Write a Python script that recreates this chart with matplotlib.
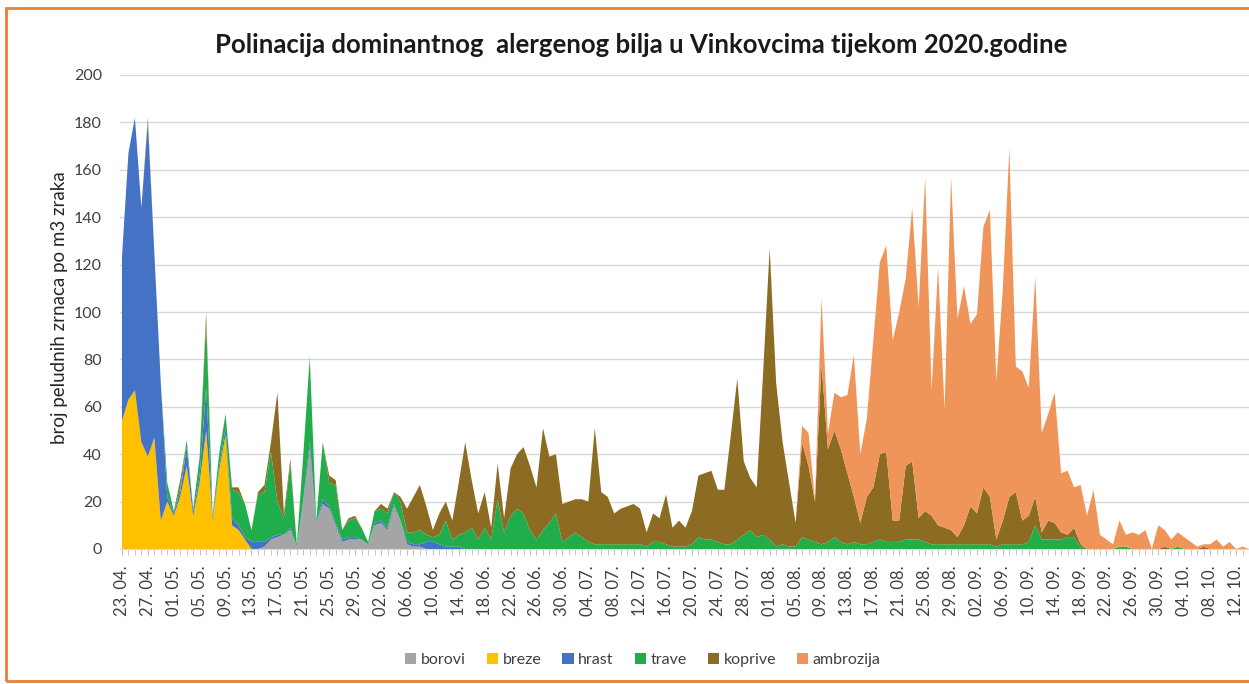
import numpy as np
import matplotlib
matplotlib.use('Agg')
import matplotlib.pyplot as plt
from matplotlib.patches import Patch, Rectangle

plt.rcParams['font.family'] = ['Lato', 'DejaVu Sans']

# daily pollen counts, 23.04. - 14.10.2020 (rows of 10 days)
borovi = [
    0, 0, 0, 0, 0, 0, 0, 0, 0, 0,
    0, 0, 0, 0, 0, 0, 0, 0, 0, 0,
    0, 0, 1, 4, 5, 6, 8, 1, 20, 42,
    11, 19, 17, 10, 3, 4, 4, 4, 2, 10,
    11, 8, 18, 12, 2, 1, 1, 0, 0, 0,
    0, 0, 0, 0, 0, 0, 0, 0, 0, 0,
    0, 0, 0, 0, 0, 0, 0, 0, 0, 0,
    0, 0, 0, 0, 0, 0, 0, 0, 0, 0,
    0, 0, 0, 0, 0, 0, 0, 0, 0, 0,
    0, 0, 0, 0, 0, 0, 0, 0, 0, 0,
    0, 0, 0, 0, 0, 0, 0, 0, 0, 0,
    0, 0, 0, 0, 0, 0, 0, 0, 0, 0,
    0, 0, 0, 0, 0, 0, 0, 0, 0, 0,
    0, 0, 0, 0, 0, 0, 0, 0, 0, 0,
    0, 0, 0, 0, 0, 0, 0, 0, 0, 0,
    0, 0, 0, 0, 0, 0, 0, 0, 0, 0,
    0, 0, 0, 0, 0, 0, 0, 0, 0, 0,
    0, 0, 0, 0, 0,
]
breze = [
    54, 63, 67, 45, 39, 47, 12, 20, 14, 22,
    35, 14, 28, 50, 12, 33, 48, 10, 8, 4,
    0, 0, 0, 0, 0, 0, 0, 0, 0, 0,
    0, 0, 0, 0, 0, 0, 0, 0, 0, 0,
    0, 0, 0, 0, 0, 0, 0, 0, 0, 0,
    0, 0, 0, 0, 0, 0, 0, 0, 0, 0,
    0, 0, 0, 0, 0, 0, 0, 0, 0, 0,
    0, 0, 0, 0, 0, 0, 0, 0, 0, 0,
    0, 0, 0, 0, 0, 0, 0, 0, 0, 0,
    0, 0, 0, 0, 0, 0, 0, 0, 0, 0,
    0, 0, 0, 0, 0, 0, 0, 0, 0, 0,
    0, 0, 0, 0, 0, 0, 0, 0, 0, 0,
    0, 0, 0, 0, 0, 0, 0, 0, 0, 0,
    0, 0, 0, 0, 0, 0, 0, 0, 0, 0,
    0, 0, 0, 0, 0, 0, 0, 0, 0, 0,
    0, 0, 0, 0, 0, 0, 0, 0, 0, 0,
    0, 0, 0, 0, 0, 0, 0, 0, 0, 0,
    0, 0, 0, 0, 0,
]
hrast = [
    69, 104, 115, 99, 141, 78, 58, 2, 1, 2,
    8, 2, 3, 18, 1, 2, 3, 3, 2, 1,
    3, 3, 2, 1, 1, 0, 1, 0, 1, 3,
    0, 2, 1, 1, 1, 1, 1, 0, 0, 1,
    1, 1, 1, 0, 1, 1, 1, 3, 3, 2,
    1, 1, 1, 0, 0, 0, 0, 0, 0, 0,
    0, 0, 0, 0, 0, 0, 0, 0, 0, 0,
    0, 0, 0, 0, 0, 0, 0, 0, 0, 0,
    0, 0, 0, 0, 0, 0, 0, 0, 0, 0,
    0, 0, 0, 0, 0, 0, 0, 0, 0, 0,
    0, 0, 0, 0, 0, 0, 0, 0, 0, 0,
    0, 0, 0, 0, 0, 0, 0, 0, 0, 0,
    0, 0, 0, 0, 0, 0, 0, 0, 0, 0,
    0, 0, 0, 0, 0, 0, 0, 0, 0, 0,
    0, 0, 0, 0, 0, 0, 0, 0, 0, 0,
    0, 0, 0, 0, 0, 0, 0, 0, 0, 0,
    0, 0, 0, 0, 0, 0, 0, 0, 0, 0,
    0, 0, 0, 0, 0,
]
trave = [
    0, 0, 0, 0, 0, 0, 0, 6, 1, 2,
    3, 1, 8, 28, 1, 5, 6, 12, 14, 14,
    5, 20, 21, 36, 14, 7, 27, 1, 19, 36,
    1, 24, 10, 16, 4, 7, 8, 5, 1, 5,
    5, 6, 5, 8, 4, 5, 6, 3, 2, 4,
    11, 3, 5, 7, 9, 4, 9, 4, 21, 7,
    14, 17, 15, 8, 4, 8, 11, 15, 3, 5,
    7, 5, 3, 2, 2, 2, 2, 2, 2, 2,
    2, 1, 3, 3, 2, 1, 1, 1, 2, 5,
    4, 4, 3, 2, 2, 4, 6, 8, 5, 6,
    4, 1, 2, 1, 1, 5, 4, 3, 2, 3,
    5, 3, 2, 3, 2, 2, 3, 4, 3, 3,
    3, 4, 4, 4, 3, 2, 2, 2, 2, 2,
    2, 2, 2, 2, 2, 1, 2, 2, 2, 2,
    3, 10, 4, 4, 4, 4, 5, 5, 1, 0,
    0, 0, 0, 0, 1, 1, 0, 0, 0, 0,
    0, 0, 0, 1, 0, 0, 0, 0, 0, 0,
    0, 0, 0, 0, 0,
]
koprive = [
    0, 0, 0, 0, 2, 0, 0, 0, 0, 3,
    0, 0, 0, 4, 0, 0, 0, 1, 2, 0,
    0, 1, 3, 4, 46, 2, 2, 0, 0, 0,
    0, 0, 3, 2, 0, 1, 1, 0, 0, 0,
    2, 2, 0, 2, 10, 15, 19, 12, 3, 9,
    8, 8, 22, 38, 20, 11, 15, 5, 15, 6,
    20, 23, 28, 27, 22, 43, 28, 25, 16, 15,
    14, 16, 17, 49, 22, 20, 13, 15, 16, 17,
    15, 6, 12, 10, 21, 8, 11, 8, 14, 26,
    28, 29, 22, 23, 46, 68, 31, 22, 21, 69,
    123, 69, 43, 27, 10, 40, 31, 17, 76, 39,
    45, 39, 30, 19, 9, 20, 23, 36, 38, 9,
    9, 31, 33, 9, 13, 12, 8, 7, 6, 3,
    8, 16, 13, 24, 20, 3, 10, 20, 22, 10,
    11, 12, 3, 8, 7, 3, 1, 4, 1, 0,
    0, 0, 0, 0, 0, 0, 0, 0, 0, 0,
    0, 1, 0, 0, 0, 0, 0, 1, 0, 0,
    0, 0, 0, 0, 0,
]
ambrozija = [
    0, 0, 0, 0, 0, 0, 0, 0, 0, 0,
    0, 0, 0, 0, 0, 0, 0, 0, 0, 0,
    0, 0, 0, 0, 0, 0, 0, 0, 0, 0,
    0, 0, 0, 0, 0, 0, 0, 0, 0, 0,
    0, 0, 0, 0, 0, 0, 0, 0, 0, 0,
    0, 0, 0, 0, 0, 0, 0, 0, 0, 0,
    0, 0, 0, 0, 0, 0, 0, 0, 0, 0,
    0, 0, 0, 0, 0, 0, 0, 0, 0, 0,
    0, 0, 0, 0, 0, 0, 0, 0, 0, 0,
    0, 0, 0, 0, 0, 0, 0, 0, 0, 0,
    0, 0, 0, 0, 0, 7, 14, 1, 28, 7,
    16, 22, 33, 60, 29, 33, 62, 81, 87, 76,
    88, 79, 107, 89, 141, 53, 109, 50, 149, 92,
    101, 77, 84, 110, 121, 67, 98, 147, 53, 63,
    54, 93, 42, 45, 55, 25, 27, 17, 25, 14,
    25, 6, 4, 2, 11, 5, 7, 6, 8, 0,
    10, 7, 4, 6, 5, 3, 1, 1, 2, 4,
    1, 3, 0, 1, 0,
]

series_names = ['borovi', 'breze', 'hrast', 'trave', 'koprive', 'ambrozija']
series_colors = ['#A5A5A5', '#FFC000', '#4472C4', '#22AD4C', '#8C6B23', '#F0955A']

# one label every 4 days
date_labels = [
    '23. 04.', '27. 04.', '01. 05.', '05. 05.', '09. 05.', '13. 05.',
    '17. 05.', '21. 05.', '25. 05.', '29. 05.', '02. 06.', '06. 06.',
    '10. 06.', '14. 06.', '18. 06.', '22. 06.', '26. 06.', '30. 06.',
    '04. 07.', '08. 07.', '12. 07.', '16. 07.', '20. 07.', '24. 07.',
    '28. 07.', '01. 08.', '05. 08.', '09. 08.', '13. 08.', '17. 08.',
    '21. 08.', '25. 08.', '29. 08.', '02. 09.', '06. 09.', '10. 09.',
    '14. 09.', '18. 09.', '22. 09.', '26. 09.', '30. 09.', '04. 10.',
    '08. 10.', '12. 10.',
]

W, H = 1249, 684
fig = plt.figure(figsize=(W / 100, H / 100), dpi=100)
fig.patch.set_facecolor('white')

ax = fig.add_axes([120 / W, (H - 549) / H, (W - 120) / W, (549 - 75) / H])
days = np.arange(len(borovi))
ax.stackplot(days, borovi, breze, hrast, trave, koprive, ambrozija,
             colors=series_colors, labels=series_names, linewidth=0)

ax.set_xlim(-0.3, 173.4)
ax.set_ylim(0, 200)
ax.set_yticks(range(0, 201, 20))
ax.grid(axis='y', color='#D9D9D9', linewidth=1)
ax.set_axisbelow(True)
for side in ['left', 'right', 'top']:
    ax.spines[side].set_visible(False)
ax.spines['bottom'].set_color('#D9D9D9')

ax.set_xticks(days[::4][:len(date_labels)])
ax.set_xticklabels(date_labels, rotation=90)
ax.set_xticks(days, minor=True)
ax.tick_params(axis='x', which='both', length=4, color='#BFBFBF', labelsize=12,
               labelcolor='#404040', pad=8)
ax.tick_params(axis='y', length=0, labelsize=11.5, labelcolor='#404040', pad=13)

fig.text(60 / W, 1 - 308 / H, 'broj peludnih zrnaca po m3 zraka', rotation=90,
         ha='center', va='center', fontsize=13.5, color='#262626')
fig.text(641 / W, 1 - 45 / H,
         'Polinacija dominantnog  alergenog bilja u Vinkovcima tijekom 2020.godine',
         ha='center', va='center', fontsize=18.5, fontweight='bold', color='#1a1a1a')

handles = [Patch(facecolor=c, edgecolor='none') for c in series_colors]
fig.legend(handles, series_names, loc='center', bbox_to_anchor=(643 / W, 1 - 660 / H),
           ncol=6, frameon=False, fontsize=11.5, handlelength=0.7, handleheight=0.7,
           handletextpad=0.3, columnspacing=1.3, labelcolor='#404040')

# orange chart-area border (cut off on the right)
fig.patches.append(Rectangle((6 / W, 3 / H), 1.05, 1 - 11 / H, transform=fig.transFigure,
                             fill=False, edgecolor='#ED7D31', linewidth=2))

fig.savefig('out.png', dpi=100)
